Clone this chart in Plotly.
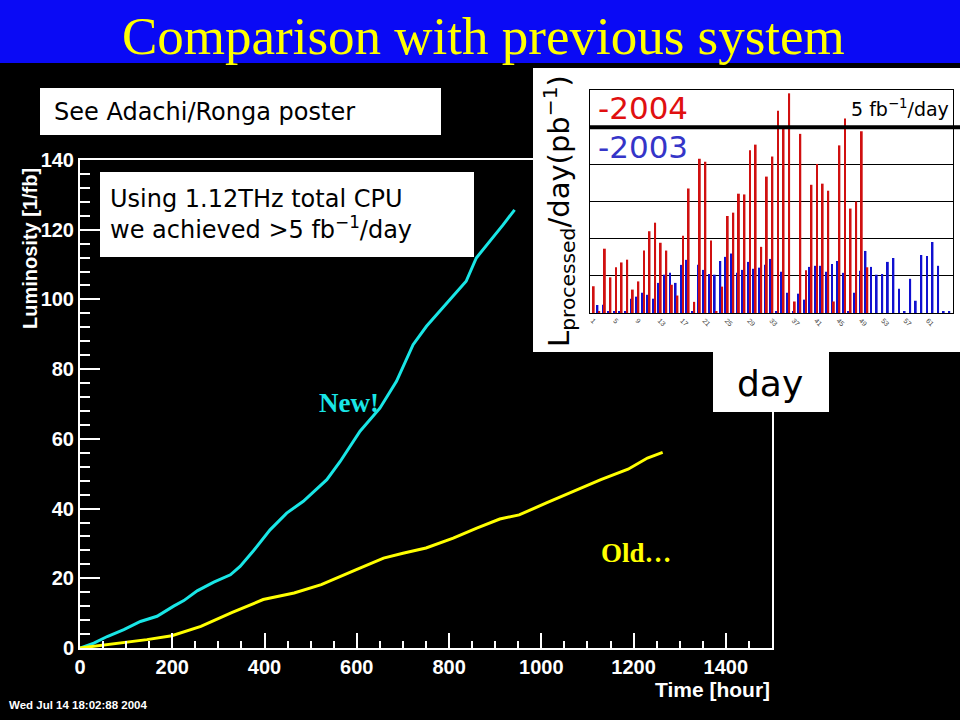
import plotly.graph_objects as go

# ---------------- main chart data ----------------
new_hours = [0, 30, 59, 95, 131, 167, 203, 225, 254, 290, 326, 347, 376, 412, 448, 484,
             535, 564, 607, 650, 686, 722, 751, 780, 809, 837, 859, 895, 917, 942]
new_lumi = [0, 1.4, 3.3, 5.3, 7.6, 9.1, 12.0, 13.6, 16.4, 18.9, 21.0, 23.4, 27.9, 33.9, 38.7, 42.1,
            48.3, 53.5, 62.2, 68.8, 76.5, 87.0, 92.3, 96.6, 100.9, 105.2, 111.9, 117.6, 121.4, 125.7]

old_hours = [0, 44, 94, 145, 199, 262, 330, 397, 464, 523, 599, 658, 700, 750, 809, 860,
             910, 952, 1011, 1070, 1129, 1188, 1230, 1263]
old_lumi = [0, 0.7, 1.6, 2.4, 3.5, 6.2, 10.2, 13.9, 15.8, 18.2, 22.5, 25.8, 27.2, 28.7, 31.5, 34.4,
            37.0, 38.2, 41.6, 44.9, 48.3, 51.3, 54.5, 56.1]

x_ticks = [0, 200, 400, 600, 800, 1000, 1200, 1400]
y_ticks = [0, 20, 40, 60, 80, 100, 120, 140]

# ---------------- inset data (pb^-1 per day) ----------------
days = list(range(1, 66))
lum_2004 = [720, 50, 1730, 960, 1230, 1360, 1435, 630, 850, 1680,
            2200, 2430, 1890, 1680, 760, 470, 2080, 3350, 300, 4150,
            4070, 1950, 50, 710, 2610, 2700, 3210, 3190, 4380, 4530,
            1780, 3670, 4210, 5440, 5000, 5910, 310, 4820, 1150, 3450,
            4010, 3480, 3290, 310, 4510, 5230, 2810, 3000, 4890, 1230,
            0, 0, 0, 0, 0, 0, 0, 0, 0, 0,
            0, 0, 0, 0, 0]
lum_2003 = [0, 215, 220, 50, 50, 50, 50, 385, 440, 545,
            490, 385, 810, 1030, 1080, 810, 1295, 1430, 50, 1295,
            1160, 1050, 1030, 1400, 1510, 1600, 1080, 1160, 1375, 1190,
            1220, 1295, 1455, 50, 1110, 545, 50, 520, 360, 1240,
            1270, 1270, 1110, 1320, 1400, 1080, 50, 545, 1135, 1670,
            1240, 1030, 1050, 1375, 1480, 650, 50, 920, 330, 1560,
            1535, 1910, 1270, 50, 50]
day_tick_vals = [1, 5, 9, 13, 17, 21, 25, 29, 33, 37, 41, 45, 49, 53, 57, 61]
day_tick_text = [str(d) for d in day_tick_vals]
target_line = 5000  # 5 fb^-1/day

W, H = 960, 720
def px(x):
    return x / W
def py(y):
    return (H - y) / H

fig = go.Figure()

fig.add_trace(go.Scatter(x=new_hours, y=new_lumi, mode="lines",
                         line=dict(color="#19E6E6", width=3), xaxis="x", yaxis="y",
                         showlegend=False))
fig.add_trace(go.Scatter(x=old_hours, y=old_lumi, mode="lines",
                         line=dict(color="#FFFF00", width=3), xaxis="x", yaxis="y",
                         showlegend=False))

fig.add_trace(go.Bar(x=days, y=lum_2003, marker=dict(color="#1010D0", line=dict(width=0)),
                     xaxis="x2", yaxis="y2", showlegend=False))
fig.add_trace(go.Bar(x=days, y=lum_2004, marker=dict(color="#D01010", line=dict(width=0)),
                     xaxis="x2", yaxis="y2", showlegend=False))

bold = dict(family="Liberation Sans", size=20, color="white", weight="bold")

shapes = [
    # title bar
    dict(type="rect", xref="paper", yref="paper", x0=0, x1=1, y0=py(63), y1=1,
         fillcolor="#0A0AF5", line=dict(width=0), layer="below"),
    # inset white panel
    dict(type="rect", xref="paper", yref="paper", x0=px(533), x1=1, y0=py(352), y1=py(68),
         fillcolor="white", line=dict(width=0), layer="below"),
    # day box
    dict(type="rect", xref="paper", yref="paper", x0=px(713), x1=px(829), y0=py(412), y1=py(352),
         fillcolor="white", line=dict(width=0), layer="below"),
    # 5 fb^-1/day line
    dict(type="line", xref="paper", yref="y2", x0=px(590), x1=1, y0=target_line, y1=target_line,
         line=dict(color="black", width=4), layer="above"),
    # white boxes
    dict(type="rect", xref="paper", yref="paper", x0=px(40), x1=px(441), y0=py(135), y1=py(88),
         fillcolor="white", line=dict(width=0), layer="above"),
    dict(type="rect", xref="paper", yref="paper", x0=px(100), x1=px(474), y0=py(257), y1=py(172),
         fillcolor="white", line=dict(width=0), layer="above"),
]

tah = "DejaVu Sans"
annotations = [
    dict(text="Comparison with previous system", x=px(483), y=py(36), xref="paper", yref="paper",
         showarrow=False, font=dict(family="Liberation Serif", size=53, color="#FFFF00"),
         xanchor="center", yanchor="middle"),
    dict(text="See Adachi/Ronga poster", x=px(52), y=py(112), xref="paper", yref="paper",
         showarrow=False, font=dict(family=tah, size=24, color="black"), xanchor="left", yanchor="middle"),
    dict(text="Using 1.12THz total CPU<br>we achieved &gt;5 fb<sup>\u22121</sup>/day", x=px(108), y=py(214),
         xref="paper", yref="paper", showarrow=False, align="left",
         font=dict(family=tah, size=24, color="black"), xanchor="left", yanchor="middle"),
    dict(text="day", x=px(770), y=py(383), xref="paper", yref="paper", showarrow=False,
         font=dict(family=tah, size=36, color="black"), xanchor="center", yanchor="middle"),
    dict(text="New!", x=px(349), y=py(403), xref="paper", yref="paper", showarrow=False,
         font=dict(family="Liberation Serif", size=27, color="#19E6E6", weight="bold"),
         xanchor="center", yanchor="middle"),
    dict(text="Old\u2026", x=px(636), y=py(553), xref="paper", yref="paper", showarrow=False,
         font=dict(family="Liberation Serif", size=27, color="#FFFF00", weight="bold"),
         xanchor="center", yanchor="middle"),
    dict(text="Time [hour]", x=px(772), y=py(689), xref="paper", yref="paper", showarrow=False,
         font=dict(family="Liberation Sans", size=21, color="white", weight="bold"),
         xanchor="right", yanchor="middle"),
    dict(text="Luminosity [1/fb]", x=px(30), y=py(249), xref="paper", yref="paper", showarrow=False,
         textangle=-90, font=dict(family="Liberation Sans", size=20, color="white", weight="bold"),
         xanchor="center", yanchor="middle"),
    dict(text="Wed Jul 14 18:02:88 2004", x=px(7), y=py(705), xref="paper", yref="paper", showarrow=False,
         font=dict(family="Liberation Sans", size=11.5, color="white", weight="bold"),
         xanchor="left", yanchor="middle"),
    # inset texts
    dict(text="L<sub>processed</sub>/day(pb<sup>\u22121</sup>)", x=px(559), y=py(211), xref="paper",
         yref="paper", showarrow=False, textangle=-90,
         font=dict(family=tah, size=29, color="black"), xanchor="center", yanchor="middle"),
    dict(text="-2004", x=px(596), y=py(108), xref="paper", yref="paper", showarrow=False,
         font=dict(family=tah, size=31, color="#E01010"), xanchor="left", yanchor="middle"),
    dict(text="-2003", x=px(596), y=py(147), xref="paper", yref="paper", showarrow=False,
         font=dict(family=tah, size=31, color="#3535C8"), xanchor="left", yanchor="middle"),
    dict(text="5 fb<sup>\u22121</sup>/day", x=px(951), y=py(108), xref="paper", yref="paper",
         showarrow=False, font=dict(family=tah, size=19, color="black"), xanchor="right",
         yanchor="middle"),
]

fig.update_layout(
    width=W, height=H, autosize=False,
    margin=dict(l=0, r=0, t=0, b=0, pad=0, autoexpand=False),
    paper_bgcolor="black", plot_bgcolor="rgba(0,0,0,0)",
    barmode="group", bargap=0.34, bargroupgap=0,
    shapes=shapes, annotations=annotations,
    xaxis=dict(domain=[px(80), px(772)], range=[0, 1500], tickvals=x_ticks, automargin=False,
               ticks="inside", ticklen=15, tickwidth=2, tickcolor="white",
               minor=dict(dtick=50, ticks="inside", ticklen=7, tickwidth=2, tickcolor="white"),
               showline=True, linecolor="white", linewidth=2, mirror=True,
               showgrid=False, zeroline=False, tickfont=bold, anchor="y"),
    yaxis=dict(domain=[py(648), py(160)], range=[0, 140], tickvals=y_ticks, automargin=False,
               ticks="inside", ticklen=20, tickwidth=2, tickcolor="white",
               minor=dict(dtick=4, ticks="inside", ticklen=10, tickwidth=2, tickcolor="white"),
               showline=True, linecolor="white", linewidth=2, mirror=True,
               showgrid=False, zeroline=False, tickfont=bold, anchor="x"),
    xaxis2=dict(domain=[px(590), px(953)], range=[0.5, 65.5], tickvals=day_tick_vals, automargin=False,
                ticktext=day_tick_text, tickangle=45, tickfont=dict(size=7, color="#444444",
                family="Liberation Sans"),
                showline=True, linecolor="black", linewidth=1, mirror=True, showgrid=False,
                zeroline=False, ticks="", anchor="y2"),
    yaxis2=dict(domain=[py(313), py(90)], range=[0, 6000], dtick=1000, showticklabels=False,
                automargin=False,
                showgrid=True, gridcolor="black", gridwidth=1, showline=True, linecolor="black",
                linewidth=1, mirror=True, zeroline=False, ticks="", anchor="x2"),
)

fig.write_html("out.html", config={"displayModeBar": False},
               post_script="document.body.style.margin='0';document.body.style.overflow='hidden';"
                           "document.documentElement.style.overflow='hidden';")
